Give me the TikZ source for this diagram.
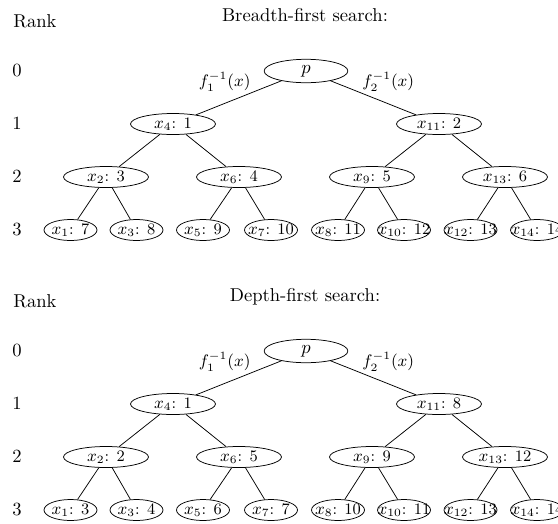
\documentclass[tikz,border=0pt]{standalone}
\usetikzlibrary{shapes.geometric}
\begin{document}
\begin{tikzpicture}[x=0.5378pt, y=-0.5378pt,
  every node/.style={inner sep=0pt},
  nodefont/.style={font=\fontsize{8.6}{10}\selectfont},
  inner/.style={draw, ellipse, inner xsep=-14pt, inner ysep=-4pt,
    minimum width=45.7pt, minimum height=11.3pt, nodefont},
  leaf/.style={inner, minimum width=28.5pt},
  rootnode/.style={inner, minimum width=45pt, minimum height=12.6pt, font=\normalsize},
  lbl/.style={font=\fontsize{9}{10}\selectfont, inner sep=1.5pt, pos=0.4},
  lblleft/.style={lbl, above left, xshift=3.5pt},
  lblright/.style={lbl, above right, xshift=-3pt},
  ranklabel/.style={anchor=base west},
  heading/.style={anchor=base}]
\useasboundingbox (0,0) rectangle (558,523);

% ---------- breadth-first numbering ----------
\begin{scope}[name prefix=b-]
  \node[heading] (title) at (305,21) {Breadth-first search:};
  \node[ranklabel] (rk) at (13,27) {Rank};
  \node[ranklabel] (r0) at (12,76) {0};
  \node[ranklabel] (r1) at (12,129) {1};
  \node[ranklabel] (r2) at (12,182) {2};
  \node[ranklabel] (r3) at (12,235) {3};

  \node[rootnode] (p) at (306,71) {$p$};
  \node[inner] (x4)  at (173,124) {$x_4$: 1};
  \node[inner] (x11) at (439,124) {$x_{11}$: 2};
  \node[inner] (x2)  at (106,177) {$x_2$: 3};
  \node[inner] (x6)  at (239,177) {$x_6$: 4};
  \node[inner] (x9)  at (372,177) {$x_9$: 5};
  \node[inner] (x13) at (505,177) {$x_{13}$: 6};
  \node[leaf] (x1)  at (70.5,230)  {$x_1$: 7};
  \node[leaf] (x3)  at (136.5,230) {$x_3$: 8};
  \node[leaf] (x5)  at (203,230) {$x_5$: 9};
  \node[leaf] (x7)  at (271,230) {$x_7$: 10};
  \node[leaf] (x8)  at (338,230) {$x_8$: 11};
  \node[leaf] (x10) at (404,230) {$x_{10}$: 12};
  \node[leaf] (x12) at (470.5,230) {$x_{12}$: 13};
  \node[leaf] (x14) at (537,230) {$x_{14}$: 14};

  \draw (p) -- node[lblleft] {$f_1^{-1}(x)$} (x4);
  \draw (p) -- node[lblright] {$f_2^{-1}(x)$} (x11);
  \draw (x4) -- (x2);  \draw (x4) -- (x6);
  \draw (x11) -- (x9); \draw (x11) -- (x13);
  \draw (x2) -- (x1);  \draw (x2) -- (x3);
  \draw (x6) -- (x5);  \draw (x6) -- (x7);
  \draw (x9) -- (x8);  \draw (x9) -- (x10);
  \draw (x13) -- (x12); \draw (x13) -- (x14);
\end{scope}

% ---------- depth-first numbering ----------
\begin{scope}[name prefix=d-, yshift=-280*0.5378pt]
  \node[heading] (title) at (305,21) {Depth-first search:};
  \node[ranklabel] (rk) at (13,27) {Rank};
  \node[ranklabel] (r0) at (12,76) {0};
  \node[ranklabel] (r1) at (12,129) {1};
  \node[ranklabel] (r2) at (12,182) {2};
  \node[ranklabel] (r3) at (12,235) {3};

  \node[rootnode] (p) at (306,71) {$p$};
  \node[inner] (x4)  at (173,124) {$x_4$: 1};
  \node[inner] (x11) at (439,124) {$x_{11}$: 8};
  \node[inner] (x2)  at (106,177) {$x_2$: 2};
  \node[inner] (x6)  at (239,177) {$x_6$: 5};
  \node[inner] (x9)  at (372,177) {$x_9$: 9};
  \node[inner] (x13) at (505,177) {$x_{13}$: 12};
  \node[leaf] (x1)  at (70.5,230)  {$x_1$: 3};
  \node[leaf] (x3)  at (136.5,230) {$x_3$: 4};
  \node[leaf] (x5)  at (203,230) {$x_5$: 6};
  \node[leaf] (x7)  at (271,230) {$x_7$: 7};
  \node[leaf] (x8)  at (338,230) {$x_8$: 10};
  \node[leaf] (x10) at (404,230) {$x_{10}$: 11};
  \node[leaf] (x12) at (470.5,230) {$x_{12}$: 13};
  \node[leaf] (x14) at (537,230) {$x_{14}$: 14};

  \draw (p) -- node[lblleft] {$f_1^{-1}(x)$} (x4);
  \draw (p) -- node[lblright] {$f_2^{-1}(x)$} (x11);
  \draw (x4) -- (x2);  \draw (x4) -- (x6);
  \draw (x11) -- (x9); \draw (x11) -- (x13);
  \draw (x2) -- (x1);  \draw (x2) -- (x3);
  \draw (x6) -- (x5);  \draw (x6) -- (x7);
  \draw (x9) -- (x8);  \draw (x9) -- (x10);
  \draw (x13) -- (x12); \draw (x13) -- (x14);
\end{scope}
\end{tikzpicture}
\end{document}
